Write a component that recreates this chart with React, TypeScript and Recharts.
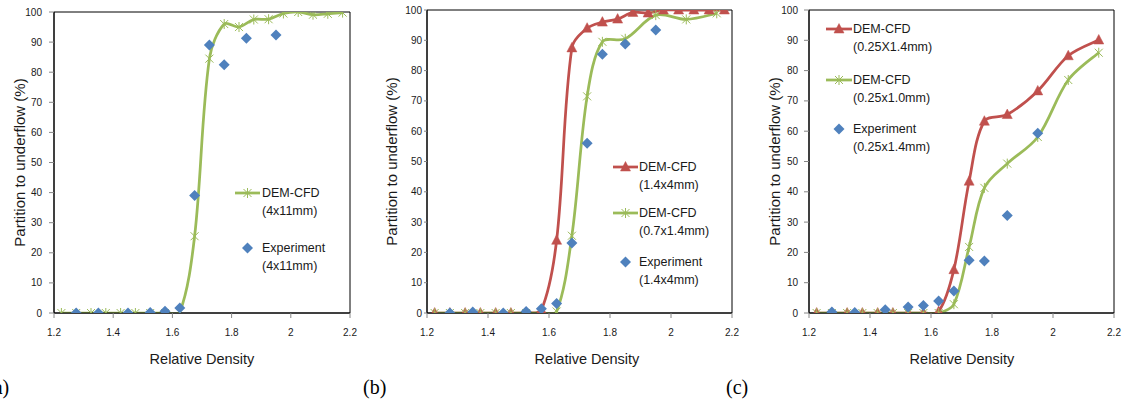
import React from 'react';
import { ComposedChart, Line, Scatter, XAxis, YAxis, ReferenceArea } from 'recharts';

// ---------- data ----------
const X_TICKS = [1.2, 1.4, 1.6, 1.8, 2.0, 2.2];
const Y_TICKS = [0, 10, 20, 30, 40, 50, 60, 70, 80, 90, 100];

const X_LONG = [1.225, 1.275, 1.325, 1.375, 1.425, 1.475, 1.525, 1.575, 1.625, 1.675, 1.725, 1.775, 1.825, 1.875, 1.925, 1.975, 2.025, 2.075, 2.125, 2.175];
const X_SHORT = [1.225, 1.275, 1.325, 1.375, 1.425, 1.475, 1.525, 1.575, 1.625, 1.675, 1.725, 1.775, 1.85, 1.95, 2.05, 2.15];
const X_EXP = [1.275, 1.35, 1.45, 1.525, 1.575, 1.625, 1.675, 1.725, 1.775, 1.85, 1.95];

// (a)
const A_CFD_4x11 = [0, 0, 0, 0, 0, 0, 0, 0, 0.3, 25.5, 84.5, 96, 95, 97.5, 97.6, 99.5, 100, 99.1, 99.4, 99.8];
const A_EXP_4x11 = [0, 0, 0, 0.2, 0.6, 1.7, 39, 89, 82.5, 91.3, 92.4];

// (b)
const B_CFD_14x4 = [0, 0, 0, 0, 0, 0, 0, 1, 24, 87.5, 94, 96, 97, 99.2, 99, 100, 100, 100, 100, 100];
const B_CFD_07x14 = [0, 0, 0, 0, 0, 0, 0, 0, 0.5, 25.5, 71.5, 89.5, 90.5, 98.3, 96.9, 98.9];
const B_EXP_14x4 = [0, 0.3, 0, 0.5, 1.4, 3.1, 23.1, 56, 85.4, 88.8, 93.4];

// (c)
const C_CFD_025x14 = [0, 0, 0, 0, 0, 0, 0, 0, 0.5, 14.3, 43.5, 63.3, 65.5, 73.3, 84.9, 90.1];
const C_CFD_025x10 = [0, 0, 0, 0, 0, 0, 0, 0, 0, 2.9, 21.8, 41.3, 49.3, 58.1, 76.9, 85.9];
const C_EXP_025x14 = [0.3, 0.2, 1.1, 2.0, 2.5, 4.0, 7.3, 17.4, 17.2, 32.2, 59.3];

const GREEN = '#9BBB59';
const RED = '#C0504D';
const BLUE = '#4F81BD';
const FONT = '"Liberation Sans", Arial, sans-serif';

const zip = (xs: number[], ys: number[]) => xs.map((x, i) => ({ x, y: ys[i] }));

// Excel-like smoothed line (chord-weighted cubic Bezier)
const excelCurve: any = (context: any) => {
  let pts: number[][] = [];
  const dist = (a: number[], b: number[]) => Math.hypot(a[0] - b[0], a[1] - b[1]);
  return {
    areaStart() {},
    areaEnd() {},
    lineStart() { pts = []; },
    point(x: number, y: number) { pts.push([+x, +y]); },
    lineEnd() {
      if (!pts.length) return;
      context.moveTo(pts[0][0], pts[0][1]);
      for (let i = 0; i < pts.length - 1; i++) {
        const p0 = pts[i - 1] || pts[i];
        const p1 = pts[i];
        const p2 = pts[i + 1];
        const p3 = pts[i + 2] || p2;
        const d01 = dist(p0, p1);
        const d12 = dist(p1, p2);
        const d23 = dist(p2, p3);
        const f1 = d01 + d12 > 0 ? d12 / (3 * (d01 + d12)) : 0;
        const f2 = d12 + d23 > 0 ? d12 / (3 * (d12 + d23)) : 0;
        const k1 = pts[i - 1] ? f1 : 1 / 6;
        const k2 = pts[i + 2] ? f2 : 1 / 6;
        context.bezierCurveTo(
          p1[0] + (p2[0] - p0[0]) * k1, p1[1] + (p2[1] - p0[1]) * k1,
          p2[0] - (p3[0] - p1[0]) * k2, p2[1] - (p3[1] - p1[1]) * k2,
          p2[0], p2[1]
        );
      }
    },
  };
};

// ---------- markers ----------
const StarMark = ({ cx, cy }: { cx: number; cy: number }) => (
  <path
    d={`M${cx - 4},${cy - 4}L${cx + 4},${cy + 4}M${cx - 4},${cy + 4}L${cx + 4},${cy - 4}M${cx},${cy - 5}L${cx},${cy + 5}`}
    stroke={GREEN}
    strokeWidth={1}
    fill="none"
  />
);
const TriMark = ({ cx, cy }: { cx: number; cy: number }) => (
  <path d={`M${cx},${cy - 5.5}L${cx + 5},${cy + 4}L${cx - 5},${cy + 4}Z`} fill={RED} stroke={RED} strokeWidth={0.5} />
);
const DiaMark = ({ cx, cy }: { cx: number; cy: number }) => (
  <path d={`M${cx},${cy - 5.5}L${cx + 5.5},${cy}L${cx},${cy + 5.5}L${cx - 5.5},${cy}Z`} fill={BLUE} />
);

const starDot = (p: any) => <StarMark key={`s${p.index}`} cx={p.cx} cy={p.cy} />;
const triDot = (p: any) => <TriMark key={`t${p.index}`} cx={p.cx} cy={p.cy} />;
const diaShape = (p: any) => <DiaMark cx={p.cx} cy={p.cy} />;

type Series = { kind: 'star' | 'tri' | 'dia'; data: { x: number; y: number }[]; name: string };

type PanelProps = {
  left: number;
  width: number;
  top: number;
  right: number;
  yAxisWidth: number;
  yTickSize: number;
  yTickMargin: number;
  series: Series[];
};

const tickStyle = { fontSize: 10, fill: '#1a1a1a', fontFamily: FONT };

const Panel = ({ left, width, top, right, yAxisWidth, yTickSize, yTickMargin, series }: PanelProps) => (
  <div style={{ position: 'absolute', left, top: 0 }}>
    <ComposedChart width={width} height={401} margin={{ top, right, bottom: 0, left: 0 }}>
      <XAxis
        type="number"
        dataKey="x"
        domain={[1.2, 2.2]}
        ticks={X_TICKS}
        allowDataOverflow
        height={88}
        tick={tickStyle}
        tickSize={5}
        tickMargin={11}
        axisLine={{ stroke: '#000' }}
        tickLine={{ stroke: '#868686' }}
        tickFormatter={(v: number) => (Math.abs(v - 2) < 1e-9 ? '2' : v.toFixed(1))}
      />
      <YAxis
        type="number"
        dataKey="y"
        domain={[0, 100]}
        ticks={Y_TICKS}
        allowDataOverflow
        width={yAxisWidth}
        tick={tickStyle}
        tickSize={yTickSize}
        tickMargin={yTickMargin}
        axisLine={{ stroke: '#000' }}
        tickLine={{ stroke: '#868686' }}
      />
      <ReferenceArea x1={1.2} x2={2.2} y1={0} y2={100} fill="none" stroke="#000" strokeWidth={1} />
      {series.map((s) =>
        s.kind === 'dia' ? (
          <Scatter key={s.name} name={s.name} data={s.data} dataKey="y" shape={diaShape} isAnimationActive={false} />
        ) : (
          <Line
            key={s.name}
            name={s.name}
            data={s.data}
            dataKey="y"
            type={excelCurve}
            stroke={s.kind === 'tri' ? RED : GREEN}
            strokeWidth={2.75}
            dot={s.kind === 'tri' ? triDot : starDot}
            activeDot={false}
            isAnimationActive={false}
          />
        )
      )}
    </ComposedChart>
  </div>
);

type LegendItem = { kind: 'star' | 'tri' | 'dia'; y: number; lines: string[] };

const LegendBlock = ({ x0, x1, tx, items }: { x0: number; x1: number; tx: number; items: LegendItem[] }) => (
  <g>
    {items.map((it, i) => {
      const mx = (x0 + x1) / 2;
      return (
        <g key={i}>
          {it.kind !== 'dia' && (
            <line x1={x0} x2={x1} y1={it.y} y2={it.y} stroke={it.kind === 'tri' ? RED : GREEN} strokeWidth={2.75} />
          )}
          {it.kind === 'star' && <StarMark cx={mx} cy={it.y} />}
          {it.kind === 'tri' && <TriMark cx={mx} cy={it.y} />}
          {it.kind === 'dia' && <DiaMark cx={mx} cy={it.y} />}
          {it.lines.map((t, j) => (
            <text key={j} x={tx} y={it.y + j * 18} dominantBaseline="central" fontSize={12.5} fontFamily={FONT} fill="#1a1a1a">
              {t}
            </text>
          ))}
        </g>
      );
    })}
  </g>
);

const YLabel = ({ x, y }: { x: number; y: number }) => (
  <text x={x} y={y} transform={`rotate(-90, ${x}, ${y})`} textAnchor="middle" dominantBaseline="central" fontSize={15} fontFamily={FONT} fill="#1a1a1a">
    Partition to underflow (%)
  </text>
);
const XLabel = ({ x }: { x: number }) => (
  <text x={x} y={364} textAnchor="middle" fontSize={14.5} fontFamily={FONT} fill="#1a1a1a">
    Relative Density
  </text>
);
const PanelTag = ({ x, t }: { x: number; t: string }) => (
  <text x={x} y={394} fontSize={20} fontFamily='"Liberation Serif", "Times New Roman", serif' fill="#000">
    {t}
  </text>
);

export default function App() {
  return (
    <div style={{ position: 'absolute', left: 0, top: 0, width: 1125, height: 401, background: '#fff', overflow: 'hidden' }}>
      <Panel
        left={0}
        width={375}
        top={12}
        right={25}
        yAxisWidth={54}
        yTickSize={5}
        yTickMargin={7}
        series={[
          { kind: 'star', name: 'DEM-CFD (4x11mm)', data: zip(X_LONG, A_CFD_4x11) },
          { kind: 'dia', name: 'Experiment (4x11mm)', data: zip(X_EXP, A_EXP_4x11) },
        ]}
      />
      <Panel
        left={380}
        width={380}
        top={10}
        right={28}
        yAxisWidth={47}
        yTickSize={3}
        yTickMargin={2}
        series={[
          { kind: 'tri', name: 'DEM-CFD (1.4x4mm)', data: zip(X_LONG, B_CFD_14x4) },
          { kind: 'star', name: 'DEM-CFD (0.7x1.4mm)', data: zip(X_SHORT, B_CFD_07x14) },
          { kind: 'dia', name: 'Experiment (1.4x4mm)', data: zip(X_EXP, B_EXP_14x4) },
        ]}
      />
      <Panel
        left={755}
        width={370}
        top={10}
        right={11}
        yAxisWidth={54}
        yTickSize={5}
        yTickMargin={6}
        series={[
          { kind: 'tri', name: 'DEM-CFD (0.25X1.4mm)', data: zip(X_SHORT, C_CFD_025x14) },
          { kind: 'star', name: 'DEM-CFD (0.25x1.0mm)', data: zip(X_SHORT, C_CFD_025x10) },
          { kind: 'dia', name: 'Experiment (0.25x1.4mm)', data: zip(X_EXP, C_EXP_025x14) },
        ]}
      />
      <svg width={1125} height={401} style={{ position: 'absolute', left: 0, top: 0, pointerEvents: 'none' }}>
        <YLabel x={19} y={162.5} />
        <YLabel x={391} y={161.5} />
        <YLabel x={774} y={161.5} />
        <XLabel x={202} />
        <XLabel x={587} />
        <XLabel x={962} />
        <PanelTag x={-13} t="(a)" />
        <PanelTag x={363} t="(b)" />
        <PanelTag x={726} t="(c)" />
        <LegendBlock
          x0={235}
          x1={260}
          tx={262}
          items={[
            { kind: 'star', y: 193, lines: ['DEM-CFD', '(4x11mm)'] },
            { kind: 'dia', y: 248, lines: ['Experiment', '(4x11mm)'] },
          ]}
        />
        <LegendBlock
          x0={613}
          x1={638}
          tx={639}
          items={[
            { kind: 'tri', y: 167, lines: ['DEM-CFD', '(1.4x4mm)'] },
            { kind: 'star', y: 213, lines: ['DEM-CFD', '(0.7x1.4mm)'] },
            { kind: 'dia', y: 262, lines: ['Experiment', '(1.4x4mm)'] },
          ]}
        />
        <LegendBlock
          x0={826}
          x1={852}
          tx={853}
          items={[
            { kind: 'tri', y: 29, lines: ['DEM-CFD', '(0.25X1.4mm)'] },
            { kind: 'star', y: 80, lines: ['DEM-CFD', '(0.25x1.0mm)'] },
            { kind: 'dia', y: 129, lines: ['Experiment', '(0.25x1.4mm)'] },
          ]}
        />
      </svg>
    </div>
  );
}
